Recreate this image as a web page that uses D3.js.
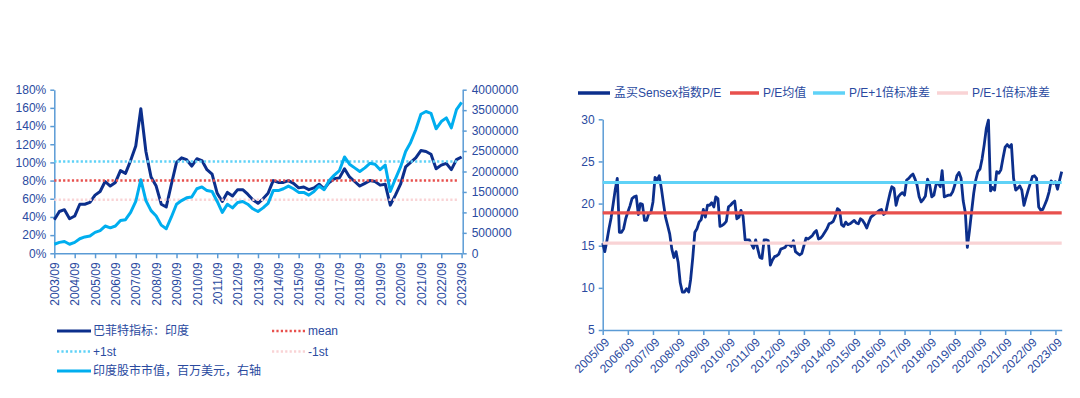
<!DOCTYPE html>
<html>
<head>
<meta charset="utf-8">
<script src="https://cdn.jsdelivr.net/npm/d3@7"></script>
<style>
  body { margin: 0; background: #fff; }
  svg text { font-family: "Liberation Sans", "Noto Sans CJK SC", Arial, sans-serif; font-size: 12px; fill: #2a4aa0; }
</style>
</head>
<body>
<div id="chart"></div>
<script>

// ---------- data: left chart (quarterly, 2003/09 - 2023/09) ----------
var buffettStart = [2003, 9];
var buffettPct = [37,46,48,38,41,54,54,56,64,68,79,74,78,91,88,102,118,159,112,84,74,54,51,76,100,105,103,96,104,102,92,87,66,57,67,63,70,70,65,59,55,
                  60,66,80,78,78,80,77,72,73,70,72,76,71,78,82,83,93,84,79,74,77,80,79,75,76,53,64,76,95,100,105,113,112,109,93,97,99,92,103,106];
var marketCap = [222000,267000,289000,222000,267000,356000,400000,422000,511000,556000,667000,622000,667000,800000,822000,1000000,1267000,1800000,1289000,1044000,911000,689000,600000,889000,1200000,1289000,1356000,1378000,1578000,1622000,1533000,1511000,1267000,1000000,1200000,1111000,1244000,1267000,1200000,1089000,1022000,
                 1111000,1222000,1533000,1533000,1578000,1644000,1578000,1489000,1489000,1422000,1511000,1644000,1556000,1778000,1911000,2022000,2356000,2178000,2089000,2000000,2089000,2200000,2178000,2044000,2156000,1511000,1822000,2111000,2489000,2711000,3022000,3400000,3467000,3422000,3044000,3222000,3311000,3067000,3511000,3689000];
var buffettMean = 80, buffettPlus = 101, buffettMinus = 59;
var leftYears = d3.range(2003, 2024);
var leftPctTicks = [0,20,40,60,80,100,120,140,160,180];
var leftCapTicks = [0,500000,1000000,1500000,2000000,2500000,3000000,3500000,4000000];

// ---------- data: right chart (monthly, 2005/09 - 2023/12) ----------
var peStart = [2005, 9];
var sensexPE = [15.3,14.3,15.6,17.0,18.3,20.0,21.6,23.0,16.6,16.6,
                17.0,18.2,19.0,19.7,20.6,20.8,20.9,18.7,20.0,19.9,
                18.0,18.0,18.8,18.9,20.2,23.1,22.8,23.3,21.8,20.0,
                18.4,17.4,16.4,14.6,13.6,14.3,13.0,10.6,9.5,9.5,
                9.9,9.5,11.0,13.6,16.6,17.0,17.8,18.1,19.3,18.4,
                19.8,19.8,20.1,19.6,20.8,20.6,17.3,17.4,17.6,17.9,
                19.6,19.8,20.1,20.3,18.2,18.4,19.2,18.5,15.7,15.7,
                15.7,15.2,14.7,15.7,14.6,13.6,13.5,15.7,15.7,15.6,
                12.7,13.3,13.7,13.8,14.0,14.6,14.7,14.8,15.2,15.1,
                14.9,15.6,14.3,14.1,13.9,14.1,15.0,15.9,15.8,16.0,
                16.2,16.6,16.8,15.8,15.9,16.2,16.6,17.0,17.6,17.7,
                17.9,18.5,19.4,19.2,17.5,17.3,17.8,17.5,17.6,17.8,
                18.0,17.7,17.6,18.2,18.0,17.6,17.1,17.8,18.4,18.6,
                18.8,19.0,19.2,19.3,18.7,18.9,20.1,21.2,22.0,21.8,
                19.8,20.8,21.1,21.3,21.0,22.8,23.0,23.3,23.5,22.9,
                22.2,20.8,20.2,20.5,20.9,22.9,22.2,20.8,21.0,22.2,
                22.5,22.0,23.9,20.8,20.9,21.0,21.0,21.4,22.2,23.3,
                23.7,23.0,20.3,18.9,14.8,16.8,19.0,21.2,22.8,23.8,
                24.1,25.3,27.0,28.9,29.9,21.5,21.9,21.6,23.8,23.6,
                24.0,25.4,26.7,27.0,26.7,27.0,23.0,21.6,21.8,22.1,
                21.6,19.8,20.7,21.6,22.4,23.2,23.3,23.0,19.6,19.2,
                19.3,19.9,20.5,21.4,22.7,22.4,22.6,21.7,22.8,23.8];
var peMean = 18.9, pePlus = 22.5, peMinus = 15.3;
var rightYears = d3.range(2005, 2024);
var peTicks = [5,10,15,20,25,30];

var colDark = '#0c2f8c', colLight = '#00aeef', colAxis = '#5b9bd5';
var colMean = '#e8504d', colPlus = '#5fd2f7', colMinus = '#f9d3d5';

var svg = d3.select('#chart')
  .append('svg')
  .attr('width', 1080)
  .attr('height', 398);

var styleAxis = (g) => {
  g.selectAll('path.domain').attr('stroke', colAxis).attr('stroke-width', 1.5);
  g.selectAll('.tick line').attr('stroke', colAxis).attr('stroke-width', 1.5);
  g.selectAll('text').attr('fill', '#2a4aa0').attr('font-size', 12).attr('font-family', null);
};

// ================= LEFT CHART =================
var qDate = (i) => new Date(buffettStart[0], buffettStart[1] - 1 + 3 * i, 1);

var x1 = d3.scaleTime()
  .domain([new Date(2003, 8, 1), new Date(2023, 8, 1)])
  .range([54.3, 461.6]);
var yL = d3.scaleLinear().domain([0, 180]).range([253.3, 89.7]);
var yR = d3.scaleLinear().domain([0, 4000000]).range([253.3, 89.7]);

var gl = svg.append('g');

gl.append('g')
  .attr('transform', 'translate(54.3,0)')
  .call(d3.axisLeft(yL).tickValues(leftPctTicks).tickSize(4).tickSizeOuter(0).tickPadding(4)
    .tickFormat(d => d + '%'))
  .call(styleAxis);

gl.append('g')
  .attr('transform', 'translate(462.7,0)')
  .call(d3.axisRight(yR).tickValues(leftCapTicks).tickSize(4).tickSizeOuter(0).tickPadding(5)
    .tickFormat(d3.format('d')))
  .call(styleAxis);

var xAxisL = gl.append('g')
  .attr('transform', 'translate(0,253.3)')
  .call(d3.axisBottom(x1).tickValues(leftYears.map(y => new Date(y, 8, 1))).tickSize(5).tickSizeOuter(0)
    .tickFormat(d3.timeFormat('%Y/%m')))
  .call(styleAxis);
xAxisL.selectAll('text')
  .attr('transform', 'rotate(-90)')
  .attr('text-anchor', 'end')
  .attr('x', -9)
  .attr('y', 0)
  .attr('dy', '0.35em');

var linePct = d3.line().x((d, i) => x1(qDate(i))).y(d => yL(d));
var lineCap = d3.line().x((d, i) => x1(qDate(i))).y(d => yR(d));

gl.append('path')
  .datum(buffettPct)
  .attr('d', linePct)
  .attr('fill', 'none')
  .attr('stroke', colDark)
  .attr('stroke-width', 3)
  .attr('stroke-linejoin', 'round');

[[buffettMean, colMean], [buffettPlus, colPlus], [buffettMinus, colMinus]].forEach(function(r) {
  gl.append('line')
    .attr('x1', x1.range()[0]).attr('x2', x1.range()[1] - 3)
    .attr('y1', yL(r[0])).attr('y2', yL(r[0]))
    .attr('stroke', r[1])
    .attr('stroke-width', 2.5)
    .attr('stroke-dasharray', '2.2,2.2');
});

gl.append('path')
  .datum(marketCap)
  .attr('d', lineCap)
  .attr('fill', 'none')
  .attr('stroke', colLight)
  .attr('stroke-width', 3)
  .attr('stroke-linejoin', 'round');

// left legend
var legL = [
  {x: 57, y: 331, col: colDark, dash: null, text: '巴菲特指标：印度'},
  {x: 272, y: 331, col: colMean, dash: '2.2,2.2', text: 'mean'},
  {x: 57, y: 351.5, col: colPlus, dash: '2.2,2.2', text: '+1st'},
  {x: 272, y: 351.5, col: colMinus, dash: '2.2,2.2', text: '-1st'},
  {x: 57, y: 371, col: colLight, dash: null, text: '印度股市市值，百万美元，右轴'}
];
legL.forEach(function(d) {
  gl.append('line')
    .attr('x1', d.x).attr('x2', d.x + 34)
    .attr('y1', d.y).attr('y2', d.y)
    .attr('stroke', d.col)
    .attr('stroke-width', d.dash ? 2.5 : 3)
    .attr('stroke-dasharray', d.dash);
  gl.append('text')
    .attr('x', d.x + 36)
    .attr('y', d.y)
    .attr('dy', '0.35em')
    .text(d.text);
});

// ================= RIGHT CHART =================
var mDate = (i) => new Date(peStart[0], peStart[1] - 1 + i, 1);

var x2 = d3.scaleTime()
  .domain([mDate(0), mDate(sensexPE.length - 1)])
  .range([602.7, 1061.7]);
var y2 = d3.scaleLinear().domain([5, 30]).range([330, 119.3]);

var gr = svg.append('g');

gr.append('g')
  .attr('transform', 'translate(602.7,0)')
  .call(d3.axisLeft(y2).tickValues(peTicks).tickSize(4).tickSizeOuter(0).tickPadding(4))
  .call(styleAxis);

var xAxisR = gr.append('g')
  .attr('transform', 'translate(0,330)')
  .call(d3.axisBottom(x2).tickValues(rightYears.map(y => new Date(y, 8, 1))).tickSize(5).tickSizeOuter(0)
    .tickFormat(d3.timeFormat('%Y/%m')))
  .call(styleAxis);
xAxisR.selectAll('text')
  .attr('transform', 'translate(4,10) rotate(-45)')
  .attr('text-anchor', 'end')
  .attr('x', 0)
  .attr('y', 0)
  .attr('dy', '0.35em');

var linePE = d3.line().x((d, i) => x2(mDate(i))).y(d => y2(d));

gr.append('path')
  .datum(sensexPE)
  .attr('d', linePE)
  .attr('fill', 'none')
  .attr('stroke', colDark)
  .attr('stroke-width', 2.8)
  .attr('stroke-linejoin', 'round');

[[peMean, colMean], [pePlus, colPlus], [peMinus, colMinus]].forEach(function(r) {
  gr.append('line')
    .attr('x1', x2.range()[0]).attr('x2', x2.range()[1])
    .attr('y1', y2(r[0])).attr('y2', y2(r[0]))
    .attr('stroke', r[1])
    .attr('stroke-width', 3.2);
});

// right legend
var legR = [
  {x: 578, w: 32, col: colDark, text: '孟买Sensex指数P/E'},
  {x: 730, w: 29, col: colMean, text: 'P/E均值'},
  {x: 813, w: 32, col: colPlus, text: 'P/E+1倍标准差'},
  {x: 937, w: 31, col: colMinus, text: 'P/E-1倍标准差'}
];
legR.forEach(function(d) {
  gr.append('line')
    .attr('x1', d.x).attr('x2', d.x + d.w)
    .attr('y1', 93).attr('y2', 93)
    .attr('stroke', d.col)
    .attr('stroke-width', 3.5);
  gr.append('text')
    .attr('x', d.x + d.w + 4)
    .attr('y', 93)
    .attr('dy', '0.35em')
    .text(d.text);
});

</script>
</body>
</html>
